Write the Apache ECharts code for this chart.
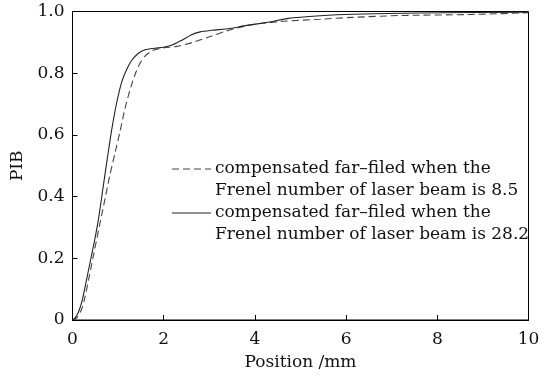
<!DOCTYPE html>
<html>
<head>
<meta charset="utf-8">
<script src="https://cdn.jsdelivr.net/npm/echarts@6/dist/echarts.min.js"></script>
<style>
  html, body { margin: 0; padding: 0; background: #fff; }
  #chart { width: 545px; height: 376px; }
</style>
</head>
<body>
<div id="chart"></div>
<script>
// Power-in-bucket curves versus radial position (mm)
const pos85 = [0, 0.1, 0.2, 0.27, 0.37, 0.47, 0.57, 0.66, 0.73, 0.82, 0.93, 1.04, 1.15, 1.26, 1.37, 1.48, 1.59, 1.7, 1.81, 2.0, 2.29, 2.64, 3.02, 3.38, 3.74, 4.11, 4.7, 5.43, 6.15, 7.18, 8.65, 10];
const pib85 = [0, 0.008, 0.035, 0.072, 0.143, 0.217, 0.29, 0.355, 0.405, 0.47, 0.54, 0.61, 0.685, 0.745, 0.795, 0.832, 0.855, 0.869, 0.876, 0.882, 0.887, 0.9, 0.919, 0.937, 0.951, 0.961, 0.969, 0.975, 0.981, 0.987, 0.99, 0.996];

const pos282 = [0, 0.05, 0.13, 0.22, 0.31, 0.4, 0.49, 0.57, 0.64, 0.7, 0.76, 0.86, 0.97, 1.08, 1.19, 1.3, 1.44, 1.59, 1.81, 2.0, 2.2, 2.4, 2.6, 2.8, 3.05, 3.45, 3.82, 4.33, 4.7, 5.43, 6.15, 7.62, 10];
const pib282 = [0, 0.005, 0.025, 0.068, 0.132, 0.197, 0.262, 0.328, 0.398, 0.46, 0.52, 0.617, 0.705, 0.772, 0.813, 0.842, 0.864, 0.876, 0.881, 0.884, 0.892, 0.907, 0.924, 0.934, 0.939, 0.945, 0.955, 0.966, 0.977, 0.986, 0.991, 0.995, 0.998];

const xTicks = [0, 2, 4, 6, 8, 10];
const yTicks = [0, 0.2, 0.4, 0.6, 0.8, 1.0];

const legendLines = [
  ['compensated far\u2013filed when the', 'Frenel number of laser beam is 8.5'],
  ['compensated far\u2013filed when the', 'Frenel number of laser beam is 28.2']
];

const FONT = 'DejaVu Serif';

function pairs(xs, ys) { return xs.map((x, i) => [x, ys[i]]); }

const chart = echarts.init(document.getElementById('chart'), null, { renderer: 'canvas' });

const legendGraphics = [];
legendLines.forEach((lines, k) => {
  const y0 = 169 + k * 44;
  legendGraphics.push({
    type: 'line',
    shape: { x1: 172, y1: y0, x2: 211, y2: y0 },
    style: { stroke: k === 0 ? '#444' : '#222', lineWidth: 1.1, lineDash: k === 0 ? [7, 4] : null }
  });
  lines.forEach((t, j) => {
    legendGraphics.push({
      type: 'text',
      x: 215, y: y0 + j * 22,
      style: { text: t, font: '17px "' + FONT + '"', fill: '#111', verticalAlign: 'middle', align: 'left' }
    });
  });
});

chart.setOption({
  animation: false,
  backgroundColor: '#fff',
  grid: { left: 72.5, right: 16.5, top: 11.5, bottom: 55, show: true, borderColor: '#000', borderWidth: 1, backgroundColor: 'transparent' },
  xAxis: {
    type: 'value', min: 0, max: 10, interval: 2,
    name: 'Position /mm', nameLocation: 'middle', nameGap: 34,
    nameTextStyle: { fontFamily: FONT, fontSize: 17, color: '#111' },
    axisLine: { lineStyle: { color: '#000', width: 1 } },
    axisTick: { inside: true, length: 5, lineStyle: { color: '#000' } },
    axisLabel: { fontFamily: FONT, fontSize: 17, color: '#111', margin: 11,
      formatter: v => xTicks.includes(v) ? String(v) : '' },
    splitLine: { show: false }
  },
  yAxis: {
    type: 'value', min: 0, max: 1, interval: 0.2,
    name: 'PIB', nameLocation: 'middle', nameGap: 46, nameRotate: 90,
    nameTextStyle: { fontFamily: FONT, fontSize: 17, color: '#111' },
    axisLine: { show: true, lineStyle: { color: '#000', width: 1 } },
    axisTick: { show: true, inside: true, length: 5, lineStyle: { color: '#000' } },
    axisLabel: { fontFamily: FONT, fontSize: 17, color: '#111', margin: 8,
      formatter: v => { const t = yTicks.find(y => Math.abs(y - v) < 1e-9); return t === undefined ? '' : (t === 0 ? '0' : t.toFixed(1)); } },
    splitLine: { show: false }
  },
  series: [
    {
      name: 'Frenel 8.5', type: 'line', data: pairs(pos85, pib85), smooth: 0.25, symbol: 'none',
      lineStyle: { color: '#444', width: 1.1, type: [7, 4] }
    },
    {
      name: 'Frenel 28.2', type: 'line', data: pairs(pos282, pib282), smooth: 0.25, symbol: 'none',
      lineStyle: { color: '#222', width: 1.1, type: 'solid' }
    }
  ],
  graphic: legendGraphics
});
</script>
</body>
</html>
